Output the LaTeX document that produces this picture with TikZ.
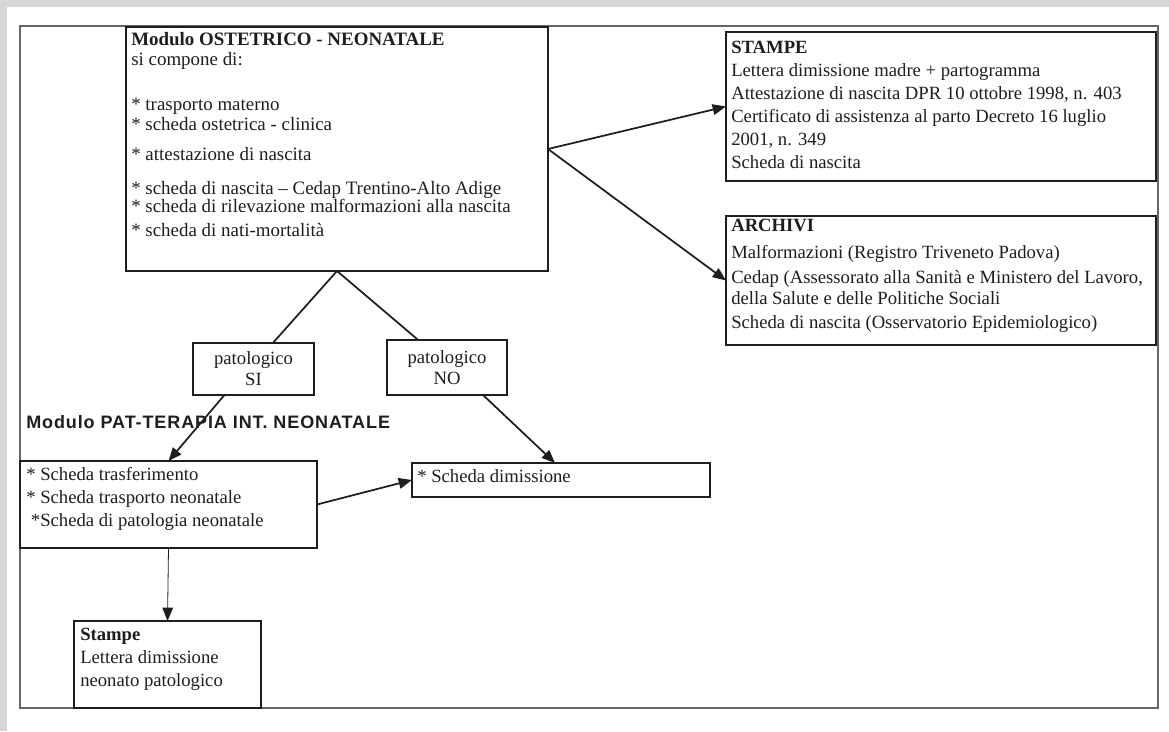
\documentclass[tikz,border=0pt]{standalone}
\usepackage{fontspec}
\setmainfont{Liberation Serif}
\newfontfamily\labelfont[LetterSpace=5]{Liberation Sans}
\usetikzlibrary{arrows.meta,calc}

\definecolor{pagegray}{RGB}{213,214,216}
\definecolor{ink}{RGB}{30,30,30}

\tikzset{
  box/.style={draw=ink, line width=1.3pt, inner sep=0pt, outer sep=0pt, anchor=north west},
  txt/.style={inner sep=0pt, anchor=north west, align=left, text=ink},
  link/.style={draw=ink, line width=1.3pt, -{Triangle[length=10pt,width=8pt]}},
  leg/.style={draw=ink, line width=1.3pt},
}

\begin{document}
\begin{tikzpicture}[x=0.75pt,y=-0.75pt]
  \useasboundingbox (0,0) rectangle (1169,731);
  \fill[pagegray] (0,0) rectangle (1169,731);
  \fill[white] (7,7) rectangle (1169,731);
  \draw[black!60, line width=0.8pt] (20,26) rectangle (1158,708);

  % boxes
  \node[box, minimum width=316.5pt, minimum height=183pt] (modulo) at (126,27) {};
  \node[box, minimum width=322.5pt, minimum height=111.75pt] (stampe) at (726,32) {};
  \node[box, minimum width=322.5pt, minimum height=96.75pt] (archivi) at (726,216) {};
  \node[box, minimum width=90.75pt, minimum height=39pt, align=center, text=ink,
        font=\fontsize{14}{15.75}\selectfont] (si) at (193,343) {patologico\\SI};
  \node[box, minimum width=90pt, minimum height=41.25pt, align=center, text=ink,
        font=\fontsize{14}{15.75}\selectfont] (no) at (387,340) {patologico\\NO};
  \node[box, minimum width=222.75pt, minimum height=65.25pt] (lbox) at (20,461) {};
  \node[box, minimum width=223.5pt, minimum height=25.5pt] (dimis) at (412,463) {};
  \node[box, minimum width=140.25pt, minimum height=65.25pt] (stampeneo) at (74,621) {};

  % texts
  \node[txt, font=\fontsize{14.2}{15}\selectfont] (modulo-txt) at (131,32.5) {%
    \textbf{Modulo OSTETRICO - NEONATALE}\\
    si compone di:\\[18.75pt]
    * trasporto materno\\
    * scheda ostetrica - clinica\\[7.5pt]
    * attestazione di nascita\\[10.5pt]
    * scheda di nascita -- Cedap Trentino-Alto Adige\\[-1.5pt]
    * scheda di rilevazione malformazioni alla nascita\\[3pt]
    * scheda di nati-mortalit\`a};
  \node[txt, font=\fontsize{14}{17.25}\selectfont] (stampe-txt) at (731,40.5) {%
    \textbf{STAMPE}\\
    Lettera dimissione madre + partogramma\\
    Attestazione di nascita DPR 10 ottobre 1998, n. 403\\
    Certificato di assistenza al parto Decreto 16 luglio\\
    2001, n. 349\\
    Scheda di nascita};
  \node[txt, font=\fontsize{14}{18}\selectfont] (archivi-txt) at (731,218.5) {%
    \textbf{ARCHIVI}\\[2.25pt]
    Malformazioni (Registro Triveneto Padova)\\[0.75pt]
    Cedap (Assessorato alla Sanit\`a e Ministero del Lavoro,\\[-2.25pt]
    della Salute e delle Politiche Sociali\\
    Scheda di nascita (Osservatorio Epidemiologico)};
  \node[txt, font=\fontsize{14}{17.25}\selectfont] (lbox-txt) at (26,467) {%
    * Scheda trasferimento\\
    * Scheda trasporto neonatale\\
    \ *Scheda di patologia neonatale};
  \node[txt, font=\fontsize{14}{15}\selectfont] (dimis-txt) at (417,469) {* Scheda dimissione};
  \node[txt, font=\fontsize{14}{17.25}\selectfont] (stampeneo-txt) at (80,627.5) {%
    \textbf{Stampe}\\
    Lettera dimissione\\
    neonato patologico};
  \node[inner sep=0pt, anchor=base west, text=ink, font=\labelfont\bfseries\fontsize{13.5}{15}\selectfont]
    (patlabel) at (26,428) {Modulo PAT-TERAPIA INT. NEONATALE};

  % connectors
  \draw[link] (modulo.east) -- (stampe.west);
  \draw[link] (modulo.east) -- (archivi.west);
  \draw[leg] (modulo.south) -- ($(si.north west)!0.66!(si.north east)$);
  \draw[leg] (modulo.south) -- ($(no.north west)!0.26!(no.north east)$);
  \draw[link] ($(si.south west)!0.26!(si.south east)$) -- (lbox.north);
  \draw[link] ($(no.south west)!0.8!(no.south east)$) -- ($(dimis.north west)!0.48!(dimis.north east)$);
  \draw[link] (lbox.east) -- (dimis.west);
  \draw[link, line width=0.6pt] (lbox.south) -- (stampeneo.north);
\end{tikzpicture}
\end{document}
